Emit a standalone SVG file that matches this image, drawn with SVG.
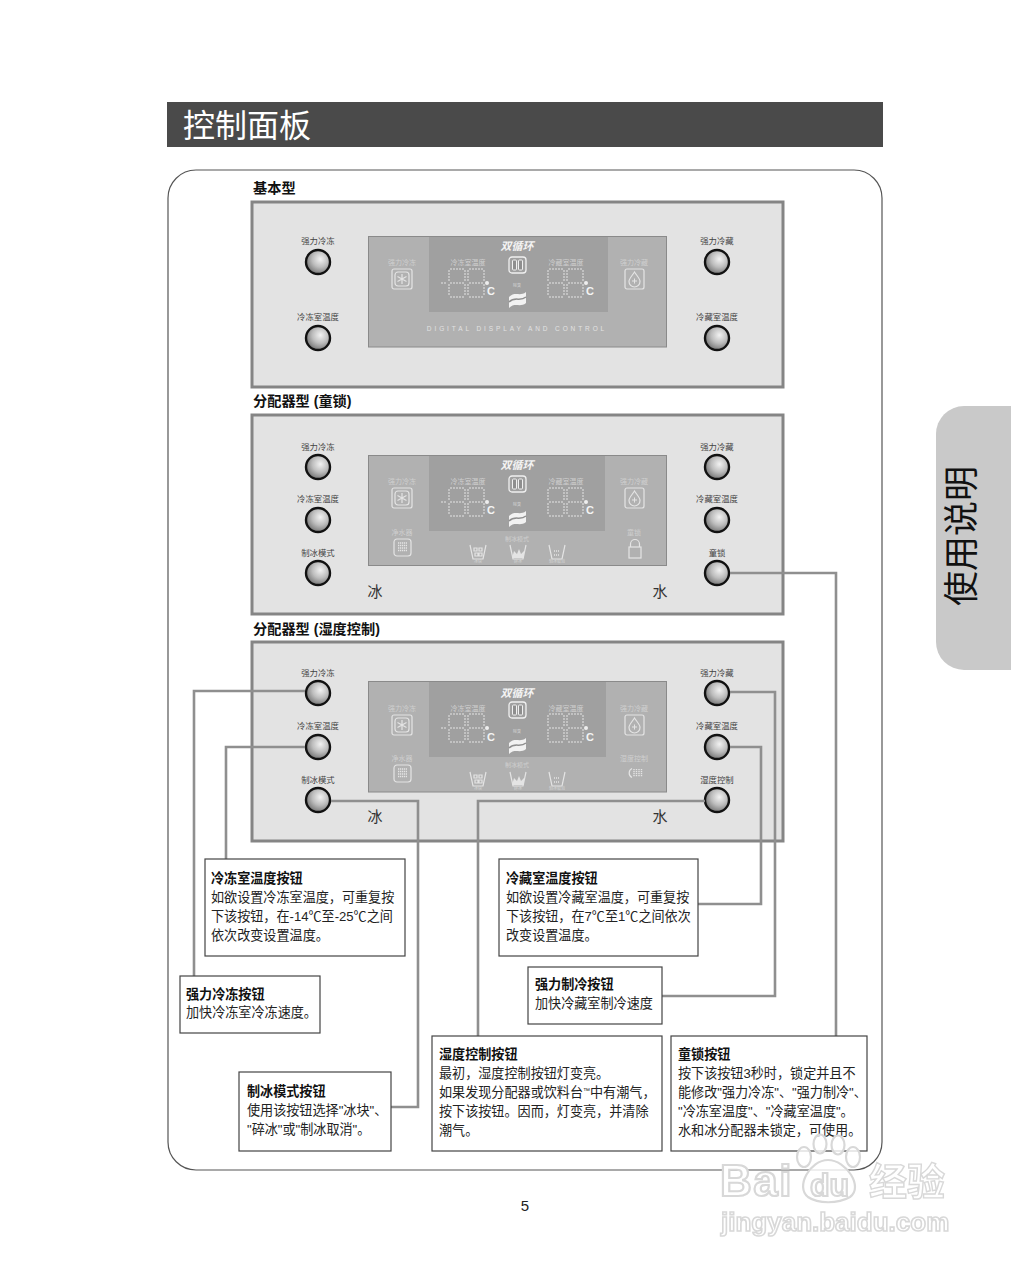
<svg xmlns="http://www.w3.org/2000/svg" width="1011" height="1280" viewBox="0 0 1011 1280">
<style>
text{font-family:"Liberation Sans","Noto Sans CJK SC",sans-serif}
.panel{fill:#e3e3e3;stroke:#858585;stroke-width:3}
.disp{fill:#b1b1b1;stroke:#8a8a8a;stroke-width:1}
.inner{fill:#a0a0a0}
.blabel{font-size:8.4px;fill:#444;text-anchor:middle}
.dl{font-size:7px;fill:#cfcfcf;text-anchor:middle}
.tiny{font-size:4px;fill:#d5d5d5;text-anchor:middle}
.cyc{font-size:11px;font-weight:bold;font-style:italic;fill:#f4f4f4;text-anchor:middle}
.deg{font-size:11px;font-weight:bold;fill:#f4f4f4}
.fw{font-size:15px;fill:#333;text-anchor:middle}
.ptitle{font-size:14.200px;font-weight:bold;fill:#111}
.box{fill:#fff;stroke:#444;stroke-width:1.200}
.t{font-size:13.100px;fill:#222}
.b{font-size:13.100px;font-weight:bold;fill:#111}
.conn{fill:none;stroke:#8f8f8f;stroke-width:2.600}
.seg{fill:none;stroke:#cdcdcd;stroke-width:1.500;stroke-dasharray:2 1}
.ic{fill:none;stroke:#e4e4e4;stroke-width:1.200}
.wm{fill:#fff;stroke:#d8d8d8;stroke-width:2.200}
</style>
<defs>
<filter id="soft" x="-5%" y="-5%" width="110%" height="110%"><feGaussianBlur stdDeviation="0.500"/></filter>
<radialGradient id="knob" cx="0.6" cy="0.38" r="0.75">
<stop offset="0" stop-color="#f2f2f2"/><stop offset="0.45" stop-color="#bdbdbd"/><stop offset="1" stop-color="#5c5c5c"/>
</radialGradient>
<g id="btn"><circle r="12" fill="url(#knob)" stroke="#111" stroke-width="2.400"/></g>
<g id="digits">
<path id="d8" class="seg" d="M1,0H15M1,14H15M1,28H15M0,1V13M0,15V27M16,1V13M16,15V27"/>
<use href="#d8" x="19"/>
</g>
<g id="snow"><rect x="0" y="0" width="20" height="20" rx="2" class="ic"/><rect x="3" y="3" width="14" height="14" rx="3" fill="#c4c4c4" class="ic"/><path class="ic" d="M10,5V15M5.500,7.500L14.500,12.500M5.500,12.500L14.500,7.500"/></g>
<g id="drop"><rect x="0" y="0" width="19" height="20" rx="2" class="ic"/><path class="ic" d="M9.500,3C7,7 4,9.500 4,12.500A5.500,5.500 0 0 0 15,12.500C15,9.500 12,7 9.500,3Z"/><path d="M7,12h5M9.500,9.500v5" stroke="#e4e4e4" stroke-width="1"/></g>
<g id="pause"><rect x="0" y="0" width="17" height="16" rx="3" fill="none" stroke="#f0f0f0" stroke-width="1.300"/><rect x="3.500" y="3" width="4" height="10" rx="1" fill="#8e8e8e" stroke="#f0f0f0"/><rect x="9.500" y="3" width="4" height="10" rx="1" fill="#8e8e8e" stroke="#f0f0f0"/></g>
<g id="wave"><path d="M0,5C6,-1 11,5 17,0V11C11,16 6,10 0,16Z" fill="#f2f2f2"/><path d="M0,10C6,4 11,10 17,5" fill="none" stroke="#8f8f8f" stroke-width="1.500"/></g>
<g id="filter"><rect x="0" y="0" width="17" height="17" rx="3" class="ic"/><path d="M4,4h9M4,6.500h9M4,9h9M4,11.500h9" stroke="#e4e4e4" stroke-width="1.300" stroke-dasharray="1.300 0.700" fill="none"/></g>
<path id="cup" class="ic" d="M0,0L3,14H13L16,0"/>
<g id="ice1"><use href="#cup"/><path class="ic" d="M4,3h3v3h-3zM9,3h3v3h-3zM5,8h3v3h-3zM9,8h3v3h-3z"/></g>
<g id="ice2"><use href="#cup"/><path d="M2,13L4,6L7,9L9,4L11,9L14,6L14,13Z" fill="#e4e4e4"/></g>
<g id="ice3"><use href="#cup"/><path d="M5,6h6M5,10h6" stroke="#e4e4e4" stroke-width="1.500" stroke-dasharray="1 1"/></g>
</defs>
<rect width="1011" height="1280" fill="#fff"/>

<g id="header"><rect x="167" y="102" width="716" height="45" fill="#4a4a4a"/><text x="183" y="137" style="font-size:32px;fill:#fff">控制面板</text></g>
<g id="side-tab"><path d="M1011,406H964A28,28 0 0 0 936,434V642A28,28 0 0 0 964,670H1011Z" fill="#c9c9c9"/><text transform="translate(974,536) rotate(-90)" text-anchor="middle" style="font-size:35px;fill:#111">使用说明</text></g>
<rect id="frame" x="168" y="170" width="714" height="1000" rx="28" fill="none" stroke="#555" stroke-width="1.200"/>

<text class="ptitle" x="253" y="193">基本型</text>
<text class="ptitle" x="253" y="406">分配器型 (童锁)</text>
<text class="ptitle" x="253" y="634">分配器型 (湿度控制)</text>

<g id="panel-basic">
<rect class="panel" x="252" y="202" width="531" height="185"/>
<rect class="disp" x="368.500" y="236.500" width="298" height="110.500"/><rect class="inner" x="429" y="237" width="179" height="75"/>
<g id="disp1">
<text class="cyc" x="517" y="250">双循环</text><use href="#pause" x="509" y="257"/><text class="tiny" x="517" y="287">除臭</text><use href="#wave" x="509" y="292"/>
<text class="dl" x="402" y="265">强力冷冻</text><use href="#snow" x="392" y="269"/>
<text class="dl" x="468" y="265">冷冻室温度</text><path class="seg" d="M441,283H447"/><use href="#digits" x="449" y="269"/><circle cx="487" cy="283" r="2" fill="#eee"/><text class="deg" x="487" y="295">C</text>
<text class="dl" x="566" y="265">冷藏室温度</text><use href="#digits" x="548" y="269"/><circle cx="586" cy="283" r="2" fill="#eee"/><text class="deg" x="586" y="295">C</text>
<text class="dl" x="634" y="265">强力冷藏</text><use href="#drop" x="625" y="269"/>
<text x="517" y="331" text-anchor="middle" style="font-size:6.500px;fill:#e2e2e2;letter-spacing:2.900px">DIGITAL DISPLAY AND CONTROL</text>
</g>
<g id="b1a"><text class="blabel" x="318" y="244">强力冷冻</text><use href="#btn" x="318" y="262"/></g>
<g id="b1b"><text class="blabel" x="318" y="320">冷冻室温度</text><use href="#btn" x="318" y="338"/></g>
<g id="b1c"><text class="blabel" x="717" y="244">强力冷藏</text><use href="#btn" x="717" y="262"/></g>
<g id="b1d"><text class="blabel" x="717" y="320">冷藏室温度</text><use href="#btn" x="717" y="338"/></g>
</g>

<g id="panel-lock">
<rect class="panel" x="252" y="415" width="531" height="199"/>
<rect class="disp" x="368.500" y="455.500" width="298" height="110"/><rect class="inner" x="429" y="456" width="176" height="75"/>
<g id="disp2">
<text class="cyc" x="517" y="469">双循环</text><use href="#pause" x="509" y="476"/><text class="tiny" x="517" y="506">除臭</text><use href="#wave" x="509" y="511"/>
<text class="dl" x="402" y="484">强力冷冻</text><use href="#snow" x="392" y="488"/>
<text class="dl" x="468" y="484">冷冻室温度</text><path class="seg" d="M441,502H447"/><use href="#digits" x="449" y="488"/><circle cx="487" cy="502" r="2" fill="#eee"/><text class="deg" x="487" y="514">C</text>
<text class="dl" x="566" y="484">冷藏室温度</text><use href="#digits" x="548" y="488"/><circle cx="586" cy="502" r="2" fill="#eee"/><text class="deg" x="586" y="514">C</text>
<text class="dl" x="634" y="484">强力冷藏</text><use href="#drop" x="625" y="488"/>
<text class="dl" x="402" y="535">净水器</text><use href="#filter" x="394" y="539"/>
<text class="dl" x="517" y="541" style="font-size:6px">制冰模式</text>
<use href="#ice1" x="470" y="545"/><use href="#ice2" x="510" y="545"/><use href="#ice3" x="549" y="545"/>
<text class="tiny" x="478" y="563">冰块</text><text class="tiny" x="518" y="563">碎冰</text><text class="tiny" x="557" y="563">制冰取消</text>
<text class="dl" x="634" y="535">童锁</text>
<g id="lock"><path class="ic" d="M630.500,547V544A4.500,4.500 0 0 1 639.500,544V547"/><rect x="629" y="547" width="12" height="11" class="ic"/></g>
</g>
<text class="fw" x="375" y="597">冰</text><text class="fw" x="660" y="597">水</text>
<g id="b2a"><text class="blabel" x="318" y="450">强力冷冻</text><use href="#btn" x="318" y="467"/></g>
<g id="b2b"><text class="blabel" x="318" y="502">冷冻室温度</text><use href="#btn" x="318" y="520"/></g>
<g id="b2c"><text class="blabel" x="318" y="556">制冰模式</text><use href="#btn" x="318" y="573"/></g>
<g id="b2d"><text class="blabel" x="717" y="450">强力冷藏</text><use href="#btn" x="717" y="467"/></g>
<g id="b2e"><text class="blabel" x="717" y="502">冷藏室温度</text><use href="#btn" x="717" y="520"/></g>
<g id="b2f"><text class="blabel" x="717" y="556">童锁</text><use href="#btn" x="717" y="573"/></g>
</g>

<g id="panel-humidity">
<rect class="panel" x="252" y="642" width="531" height="199"/>
<rect class="disp" x="368.500" y="681.500" width="298" height="110.500"/><rect class="inner" x="429" y="682" width="177" height="75"/>
<g id="disp3">
<text class="cyc" x="517" y="697">双循环</text><use href="#pause" x="509" y="702"/><text class="tiny" x="517" y="733">除臭</text><use href="#wave" x="509" y="738"/>
<text class="dl" x="402" y="711">强力冷冻</text><use href="#snow" x="392" y="715"/>
<text class="dl" x="468" y="711">冷冻室温度</text><path class="seg" d="M441,728H447"/><use href="#digits" x="449" y="714"/><circle cx="487" cy="728" r="2" fill="#eee"/><text class="deg" x="487" y="741">C</text>
<text class="dl" x="566" y="711">冷藏室温度</text><use href="#digits" x="548" y="714"/><circle cx="586" cy="728" r="2" fill="#eee"/><text class="deg" x="586" y="741">C</text>
<text class="dl" x="634" y="711">强力冷藏</text><use href="#drop" x="625" y="715"/>
<text class="dl" x="402" y="761">净水器</text><use href="#filter" x="394" y="765"/>
<text class="dl" x="517" y="767" style="font-size:6px">制冰模式</text>
<use href="#ice1" x="470" y="772"/><use href="#ice2" x="510" y="772"/><use href="#ice3" x="549" y="772"/>
<text class="tiny" x="478" y="790">冰块</text><text class="tiny" x="518" y="790">碎冰</text><text class="tiny" x="557" y="790">制冰取消</text>
<text class="dl" x="634" y="761">湿度控制</text>
<g id="hum"><path class="ic" d="M632,768.500A5,5 0 0 0 632,777.500"/><path d="M634,769V777M636.500,769V777M639,769V777M641.500,769V777" stroke="#e4e4e4" stroke-width="1.400" stroke-dasharray="1.300 0.700"/></g>
</g>
<text class="fw" x="375" y="822">冰</text><text class="fw" x="660" y="822">水</text>
<g id="b3a"><text class="blabel" x="318" y="676">强力冷冻</text><use href="#btn" x="318" y="693"/></g>
<g id="b3b"><text class="blabel" x="318" y="729">冷冻室温度</text><use href="#btn" x="318" y="747"/></g>
<g id="b3c"><text class="blabel" x="318" y="783">制冰模式</text><use href="#btn" x="318" y="800"/></g>
<g id="b3d"><text class="blabel" x="717" y="676">强力冷藏</text><use href="#btn" x="717" y="693"/></g>
<g id="b3e"><text class="blabel" x="717" y="729">冷藏室温度</text><use href="#btn" x="717" y="747"/></g>
<g id="b3f"><text class="blabel" x="717" y="783">湿度控制</text><use href="#btn" x="717" y="800"/></g>
</g>

<g id="connectors">
<path class="conn" d="M305,691H194V976"/>
<path class="conn" d="M305,747H226V859"/>
<path class="conn" d="M331,801H418V1107H391"/>
<path class="conn" d="M705,801H478V1036"/>
<path class="conn" d="M730,692H775V996H662"/>
<path class="conn" d="M730,747H761V904H698"/>
<path class="conn" d="M730,573H836V1036"/>
</g>

<g id="note-freezer-temp"><rect class="box" x="205" y="859" width="200" height="97"/>
<text class="b" x="211" y="883">冷冻室温度按钮</text><text class="t" x="211" y="902">如欲设置冷冻室温度，可重复按</text><text class="t" x="211" y="921">下该按钮，在-14℃至-25℃之间</text><text class="t" x="211" y="940">依次改变设置温度。</text></g>
<g id="note-freezer-power"><rect class="box" x="180" y="976" width="140" height="57"/>
<text class="b" x="186" y="999">强力冷冻按钮</text><text class="t" x="186" y="1017">加快冷冻室冷冻速度。</text></g>
<g id="note-ice"><rect class="box" x="239" y="1072" width="152" height="79"/>
<text class="b" x="247" y="1096">制冰模式按钮</text><text class="t" x="247" y="1115">使用该按钮选择"冰块"、</text><text class="t" x="247" y="1134">"碎冰"或"制冰取消"。</text></g>
<g id="note-fridge-temp"><rect class="box" x="499" y="859" width="199" height="97"/>
<text class="b" x="506" y="883">冷藏室温度按钮</text><text class="t" x="506" y="902">如欲设置冷藏室温度，可重复按</text><text class="t" x="506" y="921">下该按钮，在7℃至1℃之间依次</text><text class="t" x="506" y="940">改变设置温度。</text></g>
<g id="note-fridge-power"><rect class="box" x="528" y="967" width="134" height="57"/>
<text class="b" x="535" y="989">强力制冷按钮</text><text class="t" x="535" y="1008">加快冷藏室制冷速度</text></g>
<g id="note-humidity"><rect class="box" x="432" y="1036" width="230" height="115"/>
<text class="b" x="439" y="1059">湿度控制按钮</text><text class="t" x="439" y="1078">最初，湿度控制按钮灯变亮。</text><text class="t" x="439" y="1097">如果发现分配器或饮料台<tspan style="font-size:7px" dy="-4">™</tspan><tspan dy="4">中有潮气，</tspan></text><text class="t" x="439" y="1116">按下该按钮。因而，灯变亮，并清除</text><text class="t" x="439" y="1135">潮气。</text></g>
<g id="note-lock"><rect class="box" x="671" y="1036" width="196" height="115"/>
<text class="b" x="678" y="1059">童锁按钮</text><text class="t" x="678" y="1078">按下该按钮3秒时，锁定并且不</text><text class="t" x="678" y="1097">能修改"强力冷冻"、"强力制冷"、</text><text class="t" x="678" y="1116">"冷冻室温度"、"冷藏室温度"。</text><text class="t" x="678" y="1135">水和冰分配器未锁定，可使用。</text></g>

<text x="525" y="1211" text-anchor="middle" style="font-size:15px;fill:#222">5</text>

<g id="watermark" filter="url(#soft)">
<g class="wm" fill-opacity="0.800"><ellipse cx="804" cy="1157" rx="7" ry="10"/><ellipse cx="820" cy="1144" rx="6.500" ry="9.500"/><ellipse cx="838" cy="1145" rx="6.500" ry="9.500"/><ellipse cx="853" cy="1157" rx="7" ry="10"/>
<path d="M828,1160C846,1160 864,1187 850,1197C838,1204 818,1204 808,1197C795,1187 810,1160 828,1160Z"/></g>
<text class="wm" x="720" y="1196" style="font-size:44px;font-weight:bold;letter-spacing:1.500px">Bai</text>
<text class="wm" x="810" y="1196" style="font-size:32px;font-weight:bold">du</text>
<text class="wm" x="869" y="1195" style="font-size:38px;font-weight:bold;stroke-width:1.400px">经验</text>
<text class="wm" x="721" y="1231" style="font-size:26px;font-weight:bold;stroke-width:1.600px">jingyan.baidu.com</text>
</g>
</svg>
